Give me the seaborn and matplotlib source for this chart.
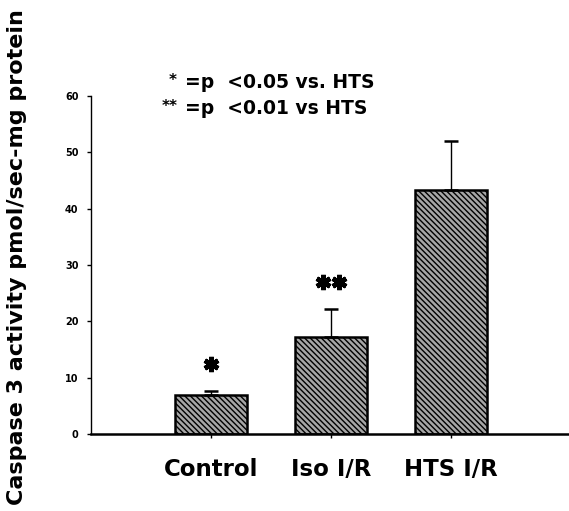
import matplotlib
matplotlib.use("Agg")
import matplotlib.pyplot as plt
import seaborn as sns
import pandas as pd

# Caspase 3 activity per group (mean and upper SEM)
groups = ["Control", "Iso I/R", "HTS I/R"]
means = [6.9, 17.3, 43.4]
sems = [0.8, 4.9, 8.7]
sig_marks = ["*", "**", ""]
y_ticks = [0, 10, 20, 30, 40, 50, 60]

sns.set_theme(style="white")
plt.rcParams["font.family"] = ["DejaVu Sans"]
plt.rcParams["text.color"] = "black"
plt.rcParams["xtick.color"] = "black"
plt.rcParams["ytick.color"] = "black"
plt.rcParams["hatch.color"] = "#1a1a1a"
plt.rcParams["hatch.linewidth"] = 1.0

df = pd.DataFrame({"group": groups, "activity": means})

fig = plt.figure(figsize=(5.69, 5.11), dpi=100)
ax = fig.add_axes([0.16, 0.1507, 0.84, 0.6614])

sns.barplot(data=df, x="group", y="activity", order=groups, ax=ax,
            color="#a6a6a6", width=0.6, edgecolor="black", linewidth=1.8,
            errorbar=None, saturation=1)
for p in ax.patches:
    p.set_hatch("\\\\\\\\\\\\")

# upper-only error bars
ax.errorbar(range(len(groups)), means, yerr=[[0] * len(sems), sems],
            fmt="none", ecolor="black", elinewidth=1.0, capsize=5, capthick=1.8)

# significance asterisks above each bar
for i, (m, s, mark) in enumerate(zip(means, sems, sig_marks)):
    if not mark:
        continue
    y = m + s + 4.8
    n = len(mark)
    offs = [0.0] if n == 1 else [-0.065, 0.065]
    for dx in offs:
        ax.plot(i + dx, y, marker=(6, 2, 0), markersize=11, mew=3.4,
                color="black", linestyle="none")

ax.set_xlim(-1.0, 2.98)
ax.set_ylim(0, 60)
ax.set_yticks(y_ticks)
ax.set_yticklabels([str(t) for t in y_ticks], fontsize=7, fontweight="bold")
ax.tick_params(axis="y", direction="out", length=3, width=1, pad=6, left=True)
ax.tick_params(axis="x", direction="out", length=3, width=1, bottom=True, pad=14)
for lbl in ax.get_xticklabels():
    lbl.set_fontsize(16.5)
    lbl.set_fontweight("bold")

sns.despine(ax=ax, top=True, right=True)
ax.spines["left"].set_linewidth(1.0)
ax.spines["left"].set_color("black")
ax.spines["bottom"].set_linewidth(1.8)
ax.spines["bottom"].set_color("black")

ax.set_xlabel("")
ax.set_ylabel("")
fig.text(0.03, 0.497, "Caspase 3 activity pmol/sec-mg protein", rotation=90,
         ha="center", va="center", fontsize=16, fontweight="bold")

# significance key
fig.text(0.297, 0.842, "*", fontsize=11, fontweight="bold", ha="left", va="center")
fig.text(0.325, 0.838, "=p  <0.05 vs. HTS", fontsize=13.5, fontweight="bold",
         ha="left", va="center")
fig.text(0.285, 0.791, "**", fontsize=11, fontweight="bold", ha="left", va="center")
fig.text(0.325, 0.787, "=p  <0.01 vs HTS", fontsize=13.5, fontweight="bold",
         ha="left", va="center")

fig.savefig("out.png", dpi=100, facecolor="white")
